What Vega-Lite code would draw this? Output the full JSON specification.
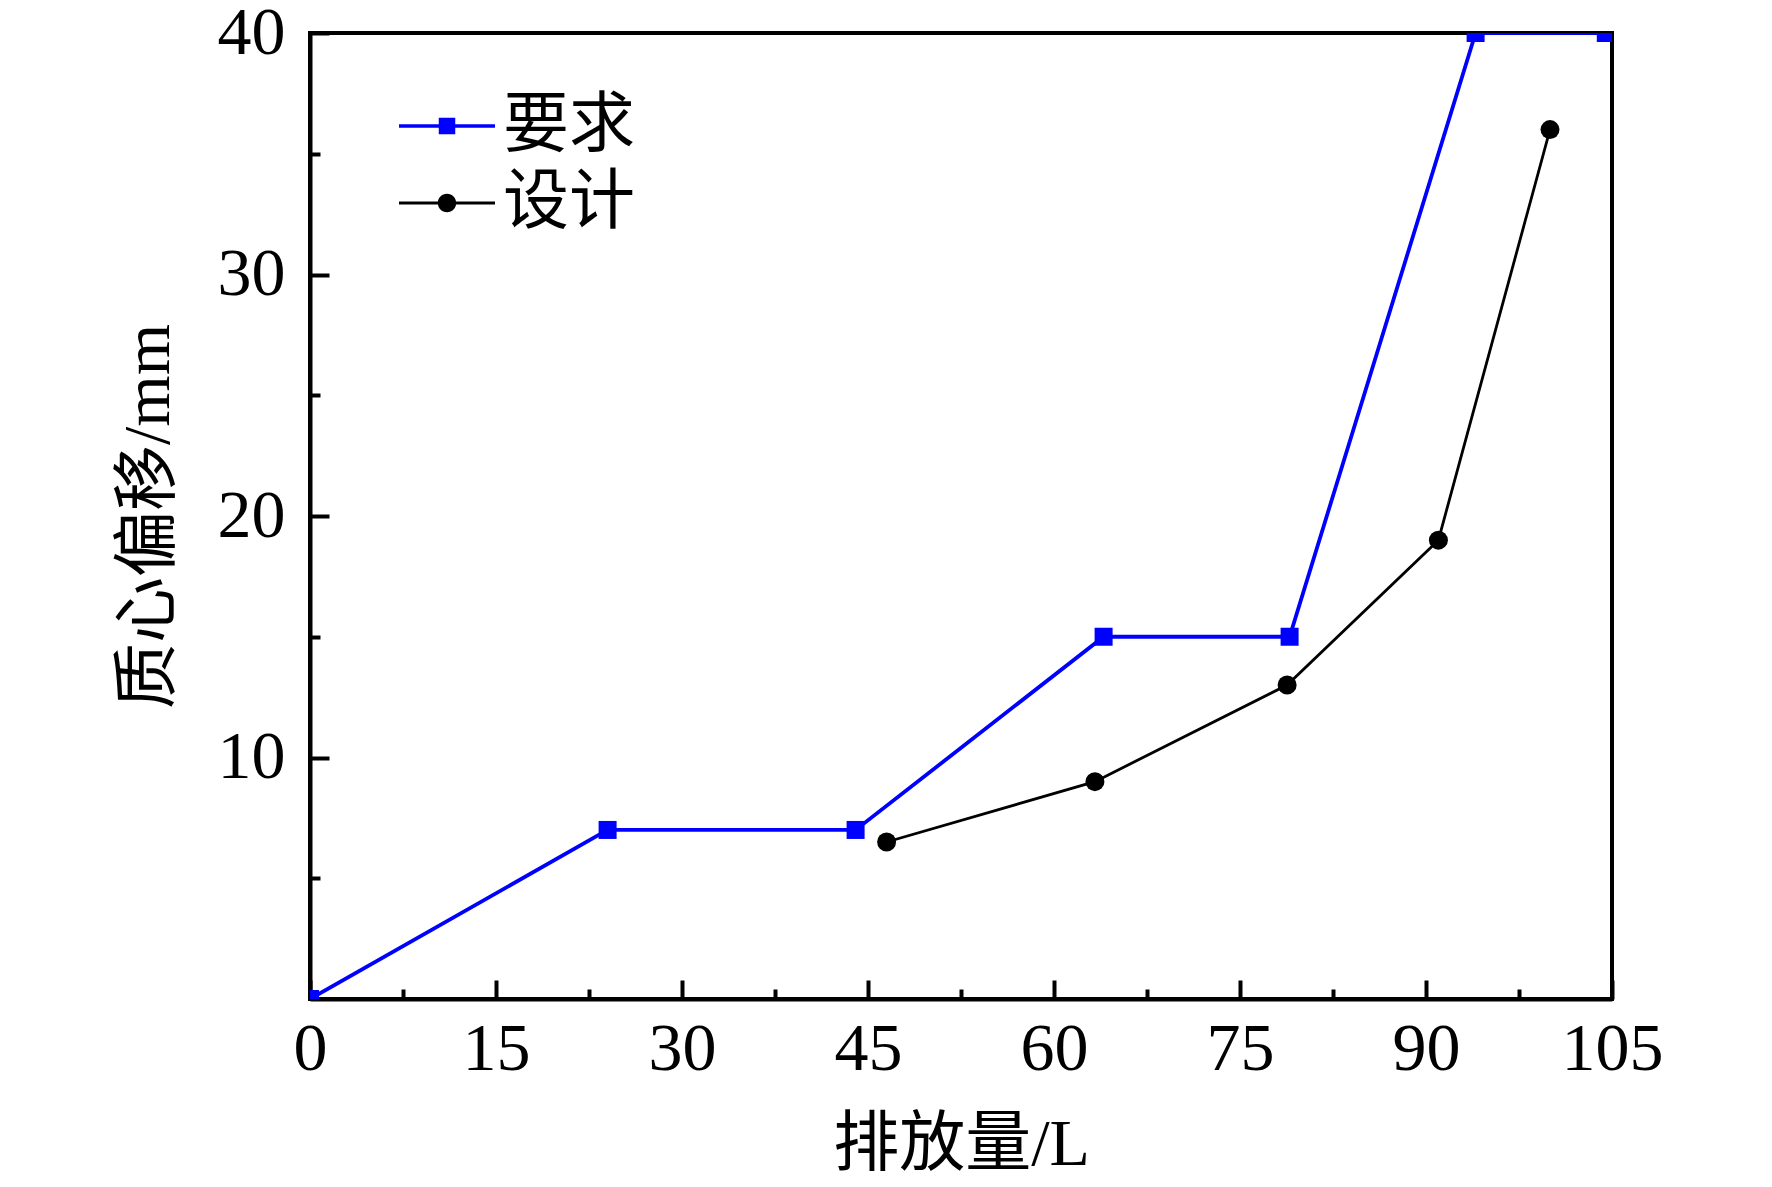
{
  "$schema": "https://vega.github.io/schema/vega-lite/v6.json",
  "width": 1302,
  "height": 966,
  "autosize": "none",
  "padding": {"left": 310, "top": 33, "right": 160, "bottom": 188},
  "background": "#ffffff",
  "data": {
    "values": [
      {"series": "要求", "volume": 0, "offset": 0},
      {"series": "要求", "volume": 24, "offset": 7},
      {"series": "要求", "volume": 44, "offset": 7},
      {"series": "要求", "volume": 64, "offset": 15},
      {"series": "要求", "volume": 79, "offset": 15},
      {"series": "要求", "volume": 94, "offset": 40},
      {"series": "要求", "volume": 104.5, "offset": 40},
      {"series": "设计", "volume": 46.5, "offset": 6.5},
      {"series": "设计", "volume": 63.3, "offset": 9},
      {"series": "设计", "volume": 78.8, "offset": 13},
      {"series": "设计", "volume": 91, "offset": 19},
      {"series": "设计", "volume": 100, "offset": 36}
    ]
  },
  "encoding": {
    "x": {
      "field": "volume",
      "type": "quantitative",
      "title": "排放量/L",
      "scale": {"domain": [0, 105], "nice": false, "zero": false},
      "axis": {
        "values": [0, 7.5, 15, 22.5, 30, 37.5, 45, 52.5, 60, 67.5, 75, 82.5, 90, 97.5, 105],
        "labelExpr": "datum.value % 15 === 0 ? datum.label : ''",
        "tickSize": {"condition": {"test": "datum.value % 15 === 0", "value": -19}, "value": -10},
        "labelPadding": 35,
        "labelFlush": false,
        "titlePadding": 29,
        "grid": false
      }
    },
    "y": {
      "field": "offset",
      "type": "quantitative",
      "title": "质心偏移/mm",
      "scale": {"domain": [0, 40], "nice": false, "zero": false},
      "axis": {
        "values": [5, 10, 15, 20, 25, 30, 35, 40],
        "labelExpr": "datum.value % 10 === 0 ? datum.label : ''",
        "tickSize": {"condition": {"test": "datum.value % 10 === 0", "value": -19}, "value": -10},
        "labelPadding": 44,
        "labelFlush": false,
        "titlePadding": 35,
        "grid": false
      }
    }
  },
  "layer": [
    {
      "mark": {"type": "line", "clip": true},
      "encoding": {
        "stroke": {
          "field": "series",
          "type": "nominal",
          "scale": {"range": ["#0000ff", "#000000"]},
          "legend": null
        },
        "strokeWidth": {
          "field": "series",
          "type": "nominal",
          "scale": {"range": [3.8, 2.8]},
          "legend": null
        }
      }
    },
    {
      "mark": {"type": "point", "filled": true, "opacity": 1, "clip": true, "strokeWidth": 0},
      "encoding": {
        "color": {
          "field": "series",
          "type": "nominal",
          "scale": {"domain": ["要求", "设计"], "range": ["#0000ff", "#000000"]},
          "legend": {
            "title": null,
            "orient": "none",
            "legendX": 104,
            "legendY": 60,
            "padding": 0,
            "symbolSize": 4356,
            "symbolStrokeWidth": 0,
            "symbolType": {"expr": "datum.value === '要求' ? 'M-1.4545,-0.055H1.4545V0.055H-1.4545Z M-0.25,-0.25H0.25V0.25H-0.25Z' : 'M-1.4545,-0.045H1.4545V0.045H-1.4545Z M-0.28,0A0.28,0.28,0,1,1,0.28,0A0.28,0.28,0,1,1,-0.28,0Z'"},
            "labelFontSize": 66,
            "labelOffset": 23,
            "rowPadding": 11
          }
        },
        "shape": {
          "field": "series",
          "type": "nominal",
          "scale": {"range": ["square", "circle"]},
          "legend": null
        },
        "size": {
          "field": "series",
          "type": "nominal",
          "scale": {"range": [324, 361]},
          "legend": null
        }
      }
    }
  ],
  "config": {
    "view": {"stroke": "#000000", "strokeWidth": 4},
    "font": "Liberation Serif, Noto Sans CJK SC",
    "axis": {
      "domainColor": "#000000",
      "domainWidth": 4,
      "tickColor": "#000000",
      "tickWidth": 4,
      "labelFont": "Liberation Serif, Noto Sans CJK SC",
      "labelFontSize": 68,
      "labelColor": "#000000",
      "titleFont": "Liberation Serif, Noto Sans CJK SC",
      "titleFontSize": 66,
      "titleFontWeight": "normal",
      "titleColor": "#000000",
      "zindex": 1
    },
    "legend": {
      "labelFont": "Liberation Serif, Noto Sans CJK SC",
      "labelColor": "#000000"
    }
  }
}
